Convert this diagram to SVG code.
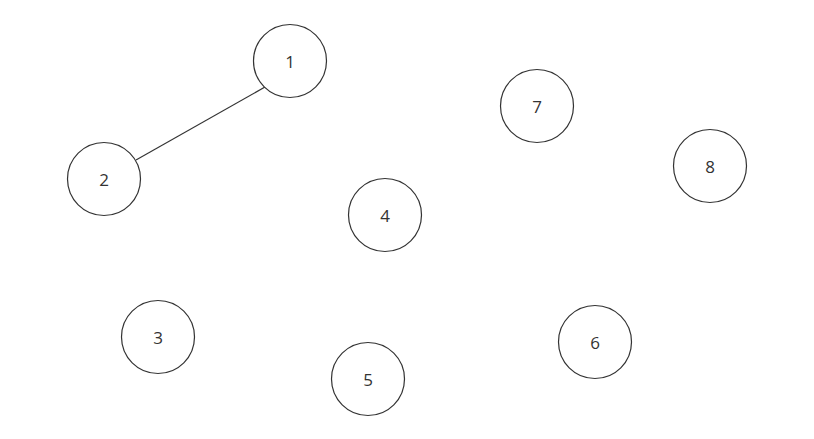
<svg xmlns="http://www.w3.org/2000/svg" width="814" height="439" viewBox="0 0 814 439">
<style>
.n circle{fill:#fff;stroke:#333;stroke-width:1.2}
.n text{font-family:"Open Sans","Noto Sans",sans-serif;font-size:17px;fill:#333;text-anchor:middle;dominant-baseline:central}
.e line{stroke:#333;stroke-width:1.2}
</style>
<rect width="814" height="439" fill="#fff"/>
<g id="edges" class="e">
<line x1="265" y1="87" x2="136" y2="160"/>
</g>
<g id="node1" class="n"><circle cx="290" cy="61" r="36.5"/><text x="290" y="61">1</text></g>
<g id="node2" class="n"><circle cx="104" cy="179" r="36.5"/><text x="104" y="179">2</text></g>
<g id="node3" class="n"><circle cx="158" cy="337" r="36.5"/><text x="158" y="337">3</text></g>
<g id="node4" class="n"><circle cx="385" cy="215" r="36.5"/><text x="385" y="215">4</text></g>
<g id="node5" class="n"><circle cx="368" cy="379" r="36.5"/><text x="368" y="379">5</text></g>
<g id="node6" class="n"><circle cx="595" cy="342" r="36.5"/><text x="595" y="342">6</text></g>
<g id="node7" class="n"><circle cx="537" cy="106" r="36.5"/><text x="537" y="106">7</text></g>
<g id="node8" class="n"><circle cx="710" cy="166" r="36.5"/><text x="710" y="166">8</text></g>
</svg>
